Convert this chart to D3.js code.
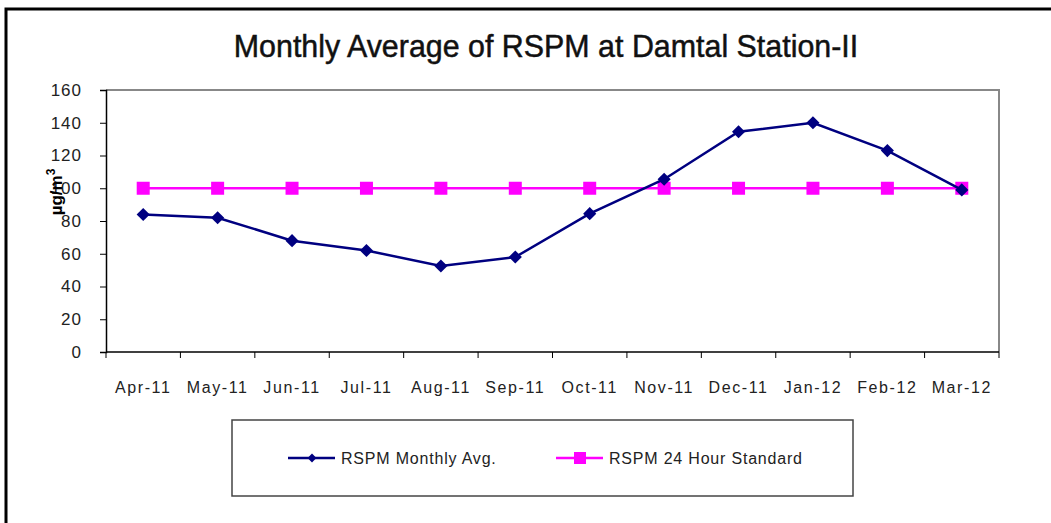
<!DOCTYPE html>
<html>
<head>
<meta charset="utf-8">
<script src="https://cdn.jsdelivr.net/npm/d3@7"></script>
<style>
  body { margin: 0; background: #fff; }
  text { font-family: "Liberation Sans", Arial, sans-serif; }
</style>
</head>
<body>
<div id="chart"></div>
<script>
// chart data
var months = ["Apr-11", "May-11", "Jun-11", "Jul-11", "Aug-11", "Sep-11",
              "Oct-11", "Nov-11", "Dec-11", "Jan-12", "Feb-12", "Mar-12"];
var monthlyAvg = [84, 82, 68, 62, 52.5, 58, 84.5, 105.5, 134.5, 140, 123, 99];
var standard24h = [100, 100, 100, 100, 100, 100, 100, 100, 100, 100, 100, 100];
var yTicks = [0, 20, 40, 60, 80, 100, 120, 140, 160];
var seriesNames = ["RSPM Monthly Avg.", "RSPM 24 Hour Standard"];

var svgWidth = 1051;
var svgHeight = 523;

var margin = { top: 90, right: 52, bottom: 171, left: 106 };
var width = svgWidth - margin.left - margin.right;
var height = svgHeight - margin.top - margin.bottom;

var svg = d3.select("#chart")
  .append("svg")
  .attr("width", svgWidth)
  .attr("height", svgHeight);

// outer frame (only top and left edges visible in the crop)
svg.append("path")
  .attr("d", "M6,523 L6,9 L1051,9")
  .attr("fill", "none")
  .attr("stroke", "#000")
  .attr("stroke-width", 3);

// title - tall, slightly condensed look
svg.append("text")
  .attr("transform", "translate(546, 57) scale(0.95, 1)")
  .attr("text-anchor", "middle")
  .style("font-size", "32px")
  .attr("fill", "#111")
  .attr("stroke", "#111")
  .attr("stroke-width", 0.5)
  .text("Monthly Average of RSPM at Damtal Station-II");

var chartGroup = svg.append("g")
  .attr("transform", `translate(${margin.left}, ${margin.top})`);

// scales
var xScale = d3.scaleBand()
  .domain(months)
  .range([0, width]);

var yScale = d3.scaleLinear()
  .domain([0, 160])
  .range([height, 0]);

// plot area frame (top and right in grey)
chartGroup.append("path")
  .attr("d", `M0,0 L${width},0 L${width},${height}`)
  .attr("fill", "none")
  .attr("stroke", "#888")
  .attr("stroke-width", 2);

// y axis
var yAxis = d3.axisLeft(yScale)
  .tickValues(yTicks)
  .tickSize(6)
  .tickPadding(18);

var yG = chartGroup.append("g").call(yAxis);
yG.select(".domain").attr("stroke", "#000").attr("stroke-width", 1.5);
yG.selectAll(".tick line").attr("stroke", "#000");
yG.selectAll("text")
  .style("font-size", "17px")
  .style("letter-spacing", "1px")
  .attr("fill", "#222");

// x axis: labels in the middle of each category, ticks on the boundaries
var xAxis = d3.axisBottom(xScale)
  .tickSize(0)
  .tickPadding(30);

var xG = chartGroup.append("g")
  .attr("transform", `translate(0, ${height})`)
  .call(xAxis);
xG.select(".domain").remove();
xG.selectAll("text")
  .style("font-size", "16px")
  .style("letter-spacing", "1.6px")
  .attr("fill", "#222");

var boundaries = months.map(m => xScale(m)).concat([width]);
chartGroup.append("g")
  .selectAll("line")
  .data(boundaries)
  .enter()
  .append("line")
  .attr("x1", d => d)
  .attr("x2", d => d)
  .attr("y1", height)
  .attr("y2", height + 6)
  .attr("stroke", "#000");

chartGroup.append("line")
  .attr("x1", 0)
  .attr("x2", width)
  .attr("y1", height)
  .attr("y2", height)
  .attr("stroke", "#000")
  .attr("stroke-width", 1.5);

// y axis label
var yLabel = svg.append("text")
  .attr("transform", "translate(62, 192) rotate(-90)")
  .attr("text-anchor", "middle")
  .style("font-size", "17px")
  .style("font-weight", "bold");
yLabel.append("tspan").text("\u00b5g/m");
yLabel.append("tspan").attr("dy", -7).style("font-size", "12px").text("3");

var cx = d => xScale(d) + xScale.bandwidth() / 2;

// standard line
var standardData = months.map((m, i) => ({ month: m, value: standard24h[i] }));
var avgData = months.map((m, i) => ({ month: m, value: monthlyAvg[i] }));

var line = d3.line()
  .x(d => cx(d.month))
  .y(d => yScale(d.value));

chartGroup.append("path")
  .datum(standardData)
  .attr("d", line)
  .attr("fill", "none")
  .attr("stroke", "#ff00ff")
  .attr("stroke-width", 2.5);

chartGroup.append("g")
  .selectAll("rect")
  .data(standardData)
  .enter()
  .append("rect")
  .attr("x", d => cx(d.month) - 6.5)
  .attr("y", d => yScale(d.value) - 6.5)
  .attr("width", 13)
  .attr("height", 13)
  .attr("fill", "#ff00ff");

// monthly average line
chartGroup.append("path")
  .datum(avgData)
  .attr("d", line)
  .attr("fill", "none")
  .attr("stroke", "#000080")
  .attr("stroke-width", 2.5);

var diamond = d3.symbol().type(d3.symbolDiamond2).size(110);
chartGroup.append("g")
  .selectAll("path")
  .data(avgData)
  .enter()
  .append("path")
  .attr("d", diamond)
  .attr("transform", d => `translate(${cx(d.month)}, ${yScale(d.value)})`)
  .attr("fill", "#000080");

// legend
var legend = svg.append("g");
legend.append("rect")
  .attr("x", 232)
  .attr("y", 420)
  .attr("width", 621)
  .attr("height", 76)
  .attr("fill", "#fff")
  .attr("stroke", "#444")
  .attr("stroke-width", 1.5);

var legendItems = [
  { name: seriesNames[0], color: "#000080", x: 288, marker: "diamond" },
  { name: seriesNames[1], color: "#ff00ff", x: 556, marker: "square" }
];

legendItems.forEach(function(item) {
  legend.append("line")
    .attr("x1", item.x)
    .attr("x2", item.x + 47)
    .attr("y1", 458)
    .attr("y2", 458)
    .attr("stroke", item.color)
    .attr("stroke-width", 2.5);
  if (item.marker === "diamond") {
    legend.append("path")
      .attr("d", d3.symbol().type(d3.symbolDiamond2).size(50))
      .attr("transform", `translate(${item.x + 24}, 458)`)
      .attr("fill", item.color);
  } else {
    legend.append("rect")
      .attr("x", item.x + 18)
      .attr("y", 452)
      .attr("width", 12)
      .attr("height", 12)
      .attr("fill", item.color);
  }
  legend.append("text")
    .attr("x", item.x + 53)
    .attr("y", 464)
    .style("font-size", "16px")
    .style("letter-spacing", "0.8px")
    .attr("fill", "#222")
    .text(item.name);
});
</script>
</body>
</html>
